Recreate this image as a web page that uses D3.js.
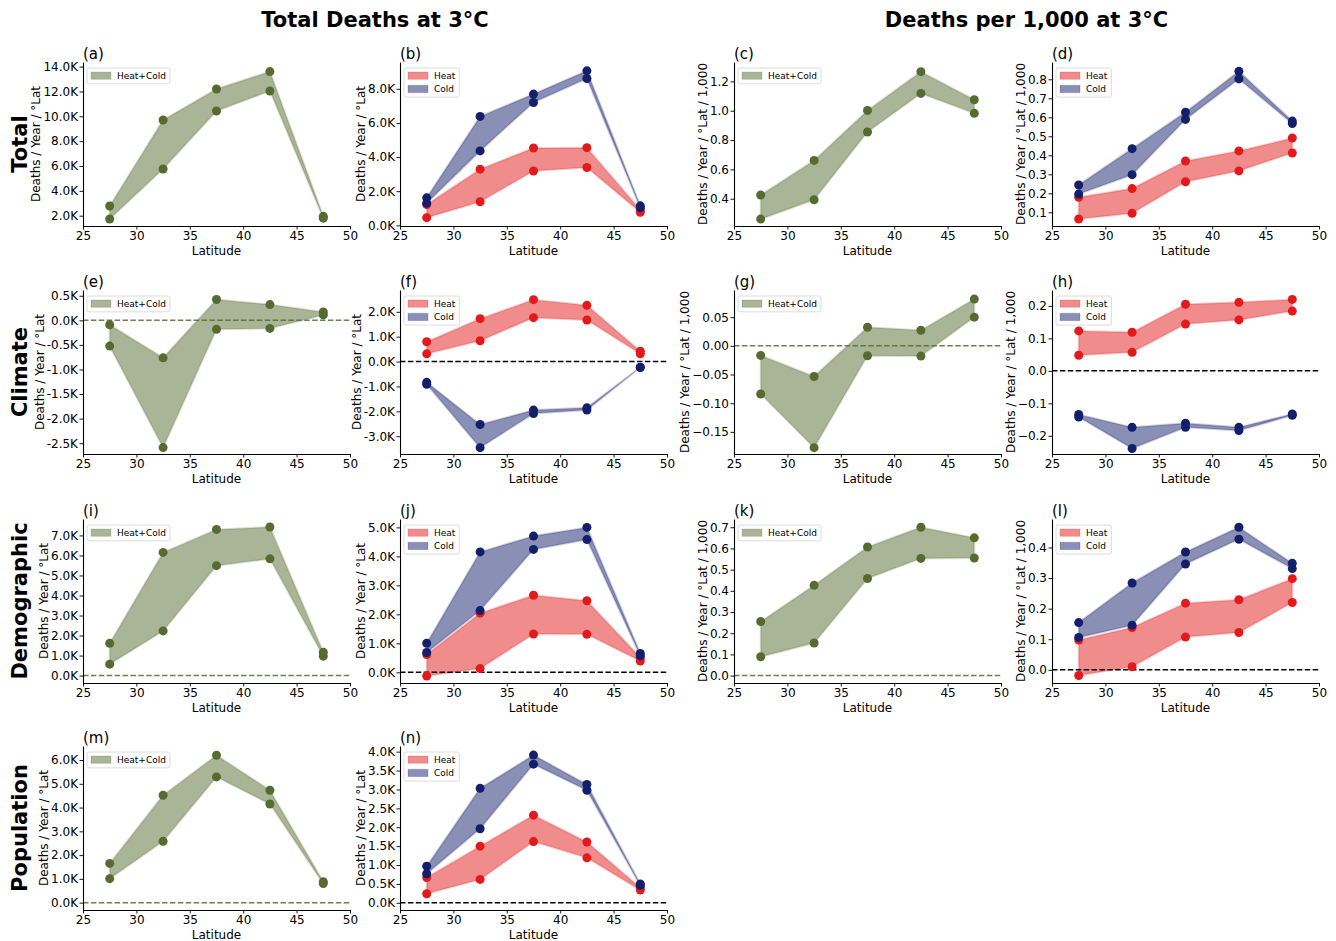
<!DOCTYPE html>
<html><head><meta charset="utf-8">
<script src="https://cdn.jsdelivr.net/npm/d3@7"></script>
<style>body{margin:0;background:#fff} svg{font-family:"DejaVu Sans",sans-serif}</style>
</head><body><svg id="chart" width="1336" height="941"></svg>
<script>
// ---------- data ----------
const latitudes = [27.5, 32.5, 37.5, 42.5, 47.5];
const xTicks = [25, 30, 35, 40, 45, 50];
const colTitles = ["Total Deaths at 3°C", "Deaths per 1,000 at 3°C"];
const rowLabels = ["Total", "Climate", "Demographic", "Population"];

// (a) Total deaths, Heat+Cold
const aLow  = [1730, 5760, 10430, 12040, 1800];
const aHigh = [2780, 9700, 12200, 13600, 1950];
// (b) Total deaths, Heat / Cold
const bHeatLow  = [450, 1380, 3180, 3390, 760];
const bHeatHigh = [1220, 3290, 4530, 4550, 900];
const bColdLow  = [1300, 4360, 7200, 8600, 1030];
const bColdHigh = [1610, 6380, 7690, 9050, 1140];
// (c) Total per 1,000, Heat+Cold
const cLow  = [0.261, 0.393, 0.855, 1.118, 0.982];
const cHigh = [0.425, 0.661, 1.002, 1.266, 1.075];
// (d) Total per 1,000, Heat / Cold
const dHeatLow  = [0.065, 0.095, 0.261, 0.318, 0.412];
const dHeatHigh = [0.179, 0.225, 0.370, 0.423, 0.491];
const dColdLow  = [0.196, 0.298, 0.589, 0.802, 0.567];
const dColdHigh = [0.244, 0.435, 0.627, 0.842, 0.580];
// (e) Climate deaths, Heat+Cold
const eLow  = [-525, -2590, -184, -164, 110];
const eHigh = [-89, -763, 423, 320, 170];
// (f) Climate deaths, Heat / Cold
const fHeatLow  = [310, 836, 1765, 1670, 310];
const fHeatHigh = [795, 1725, 2490, 2260, 418];
const fColdLow  = [-916, -3460, -2090, -1950, -240];
const fColdHigh = [-835, -2530, -1950, -1860, -229];
// (g) Climate per 1,000, Heat+Cold
const gLow  = [-0.084, -0.1775, -0.0172, -0.0178, 0.050];
const gHigh = [-0.0167, -0.0535, 0.0325, 0.0272, 0.0816];
// (h) Climate per 1,000, Heat / Cold
const hHeatLow  = [0.048, 0.057, 0.144, 0.157, 0.184];
const hHeatHigh = [0.123, 0.119, 0.205, 0.211, 0.220];
const hColdLow  = [-0.142, -0.239, -0.174, -0.184, -0.137];
const hColdHigh = [-0.134, -0.174, -0.161, -0.174, -0.133];
// (i) Demographic deaths, Heat+Cold
const iLow  = [570, 2230, 5490, 5830, 970];
const iHigh = [1610, 6150, 7300, 7420, 1170];
// (j) Demographic deaths, Heat / Cold
const jHeatLow  = [-127, 127, 1320, 1310, 390];
const jHeatHigh = [613, 2040, 2660, 2470, 510];
const jColdLow  = [683, 2130, 4240, 4580, 570];
const jColdHigh = [1000, 4155, 4700, 5000, 650];
// (k) Demographic per 1,000, Heat+Cold
const kLow  = [0.089, 0.154, 0.458, 0.553, 0.555];
const kHigh = [0.255, 0.426, 0.607, 0.700, 0.650];
// (l) Demographic per 1,000, Heat / Cold
const lHeatLow  = [-0.0186, 0.010, 0.107, 0.122, 0.220];
const lHeatHigh = [0.0975, 0.138, 0.218, 0.229, 0.298];
const lColdLow  = [0.106, 0.146, 0.346, 0.427, 0.331];
const lColdHigh = [0.1545, 0.284, 0.385, 0.466, 0.348];
// (m) Population deaths, Heat+Cold
const mLow  = [1010, 2580, 5290, 4150, 800];
const mHigh = [1650, 4520, 6200, 4730, 880];
// (n) Population deaths, Heat / Cold
const nHeatLow  = [240, 620, 1620, 1190, 340];
const nHeatHigh = [670, 1500, 2320, 1610, 400];
const nColdLow  = [770, 1960, 3670, 2980, 460];
const nColdHigh = [970, 3030, 3910, 3130, 500];

// y tick labels per panel
const aTicks = [2000, 4000, 6000, 8000, 10000, 12000, 14000];
const bTicks = [0, 2000, 4000, 6000, 8000];
const cTicks = [0.4, 0.6, 0.8, 1.0, 1.2];
const dTicks = [0.1, 0.2, 0.3, 0.4, 0.5, 0.6, 0.7, 0.8];
const eTicks = [-2500, -2000, -1500, -1000, -500, 0, 500];
const fTicks = [-3000, -2000, -1000, 0, 1000, 2000];
const gTicks = [-0.15, -0.10, -0.05, 0.00, 0.05];
const hTicks = [-0.2, -0.1, 0.0, 0.1, 0.2];
const iTicks = [0, 1000, 2000, 3000, 4000, 5000, 6000, 7000];
const jTicks = [0, 1000, 2000, 3000, 4000, 5000];
const kTicks = [0, 0.1, 0.2, 0.3, 0.4, 0.5, 0.6, 0.7];
const lTicks = [0, 0.1, 0.2, 0.3, 0.4];
const mTicks = [0, 1000, 2000, 3000, 4000, 5000, 6000];
const nTicks = [0, 500, 1000, 1500, 2000, 2500, 3000, 3500, 4000];

// ---------- layout / style ----------
const colLeft = [83, 400, 734, 1052], colWidth = 267;
const rowTop = [62, 290, 519, 746], rowHeight = 164;
const COL = {hc: "#556b2f", heat: "#e31a1c", cold: "#131f6b"};
const kFmt = v => (v / 1000).toFixed(1) + "K";
const f1 = v => d3.format(".1f")(v);
const f2 = v => d3.format(".2f")(v);

const HC = (lo, hi) => [{label: "Heat+Cold", color: COL.hc, low: lo, high: hi}];
const HCold = (hl, hh, cl, ch) => [
  {label: "Heat", color: COL.heat, low: hl, high: hh},
  {label: "Cold", color: COL.cold, low: cl, high: ch}];

const panels = [
  {tag: "(a)", r: 0, c: 0, s: HC(aLow, aHigh), ticks: aTicks, fmt: kFmt, dom: [1170, 14370], zero: null, yl: "Deaths / Year / °Lat"},
  {tag: "(b)", r: 0, c: 1, s: HCold(bHeatLow, bHeatHigh, bColdLow, bColdHigh), ticks: bTicks, fmt: kFmt, dom: [-40, 9570], zero: null, yl: "Deaths / Year / °Lat"},
  {tag: "(c)", r: 0, c: 2, s: HC(cLow, cHigh), ticks: cTicks, fmt: f1, dom: [0.214, 1.332], zero: null, yl: "Deaths / Year / °Lat / 1,000"},
  {tag: "(d)", r: 0, c: 3, s: HCold(dHeatLow, dHeatHigh, dColdLow, dColdHigh), ticks: dTicks, fmt: f1, dom: [0.028, 0.891], zero: null, yl: "Deaths / Year / °Lat / 1,000"},
  {tag: "(e)", r: 1, c: 0, s: HC(eLow, eHigh), ticks: eTicks, fmt: kFmt, dom: [-2720, 617], zero: "hc", yl: "Deaths / Year / °Lat"},
  {tag: "(f)", r: 1, c: 1, s: HCold(fHeatLow, fHeatHigh, fColdLow, fColdHigh), ticks: fTicks, fmt: kFmt, dom: [-3715, 2877], zero: "k", yl: "Deaths / Year / °Lat"},
  {tag: "(g)", r: 1, c: 2, s: HC(gLow, gHigh), ticks: gTicks, fmt: f2, dom: [-0.1886, 0.0974], zero: "hc", yl: "Deaths / Year / °Lat / 1,000"},
  {tag: "(h)", r: 1, c: 3, s: HCold(hHeatLow, hHeatHigh, hColdLow, hColdHigh), ticks: hTicks, fmt: f1, dom: [-0.256, 0.249], zero: "k", yl: "Deaths / Year / °Lat / 1,000"},
  {tag: "(i)", r: 2, c: 0, s: HC(iLow, iHigh), ticks: iTicks, fmt: kFmt, dom: [-370, 7820], zero: "hc", yl: "Deaths / Year / °Lat"},
  {tag: "(j)", r: 2, c: 1, s: HCold(jHeatLow, jHeatHigh, jColdLow, jColdHigh), ticks: jTicks, fmt: kFmt, dom: [-370, 5290], zero: "k", yl: "Deaths / Year / °Lat"},
  {tag: "(k)", r: 2, c: 2, s: HC(kLow, kHigh), ticks: kTicks, fmt: f1, dom: [-0.035, 0.739], zero: "hc", yl: "Deaths / Year / °Lat / 1,000"},
  {tag: "(l)", r: 2, c: 3, s: HCold(lHeatLow, lHeatHigh, lColdLow, lColdHigh), ticks: lTicks, fmt: f1, dom: [-0.043, 0.493], zero: "k", yl: "Deaths / Year / °Lat / 1,000"},
  {tag: "(m)", r: 3, c: 0, s: HC(mLow, mHigh), ticks: mTicks, fmt: kFmt, dom: [-310, 6590], zero: "hc", yl: "Deaths / Year / °Lat"},
  {tag: "(n)", r: 3, c: 1, s: HCold(nHeatLow, nHeatHigh, nColdLow, nColdHigh), ticks: nTicks, fmt: kFmt, dom: [-190, 4150], zero: "k", yl: "Deaths / Year / °Lat"},
];

const svg = d3.select("#chart");

// column titles
svg.append("text").attr("x", (colLeft[0] + colLeft[1] + colWidth) / 2).attr("y", 27)
  .attr("text-anchor", "middle").attr("font-size", 21).attr("font-weight", "bold").text(colTitles[0]);
svg.append("text").attr("x", (colLeft[2] + colLeft[3] + colWidth) / 2).attr("y", 27)
  .attr("text-anchor", "middle").attr("font-size", 21).attr("font-weight", "bold").text(colTitles[1]);

// row labels
rowLabels.forEach((t, i) => {
  const cy = rowTop[i] + rowHeight / 2;
  svg.append("text").attr("transform", `translate(27,${cy}) rotate(-90)`)
    .attr("text-anchor", "middle").attr("font-size", 21).attr("font-weight", "bold").text(t);
});

panels.forEach(p => {
  const g = svg.append("g").attr("transform", `translate(${colLeft[p.c]},${rowTop[p.r]})`);
  const x = d3.scaleLinear().domain([25, 50]).range([0, colWidth]);
  const y = d3.scaleLinear().domain(p.dom).range([rowHeight, 0]);

  // bands
  p.s.forEach(s => {
    const pts = latitudes.map((lat, i) => ({lat, lo: s.low[i], hi: s.high[i]}));
    const area = d3.area().x(d => x(d.lat)).y0(d => y(d.lo)).y1(d => y(d.hi));
    g.append("path").attr("d", area(pts)).attr("fill", s.color).attr("fill-opacity", 0.5)
      .attr("stroke", s.color).attr("stroke-opacity", 0.2).attr("stroke-width", 2)
      .attr("stroke-linejoin", "round");
  });

  // zero line
  if (p.zero) {
    g.append("line").attr("x1", 0).attr("x2", colWidth).attr("y1", y(0)).attr("y2", y(0))
      .attr("stroke", p.zero === "hc" ? COL.hc : "#000")
      .attr("stroke-opacity", p.zero === "hc" ? 0.85 : 1)
      .attr("stroke-width", 1.5).attr("stroke-dasharray", "5.5,2.4");
  }

  // points
  p.s.forEach(s => {
    const pts = [];
    latitudes.forEach((lat, i) => { pts.push({lat, v: s.low[i]}); pts.push({lat, v: s.high[i]}); });
    g.selectAll(null).data(pts).enter().append("circle")
      .attr("cx", d => x(d.lat)).attr("cy", d => y(d.v)).attr("r", 4.5).attr("fill", s.color);
  });

  // axes
  const xa = g.append("g").attr("transform", `translate(0,${rowHeight})`)
    .call(d3.axisBottom(x).tickValues(xTicks).tickFormat(d3.format("d")).tickSize(3.5).tickPadding(1.8).tickSizeOuter(0));
  const ya = g.append("g")
    .call(d3.axisLeft(y).tickValues(p.ticks).tickFormat(p.fmt).tickSize(3.5).tickPadding(1.5).tickSizeOuter(0));
  [xa, ya].forEach(a => {
    a.attr("font-family", "DejaVu Sans").attr("font-size", 12);
    a.selectAll("text").attr("fill", "#000");
    a.selectAll("line").attr("stroke", "#000").attr("stroke-width", 0.9);
    a.select(".domain").attr("stroke", "#000").attr("stroke-width", 1.1);
  });

  // labels
  g.append("text").attr("x", colWidth / 2).attr("y", rowHeight + 28.5).attr("text-anchor", "middle")
    .attr("font-size", 12).text("Latitude");
  const bb = ya.node().getBBox();
  g.append("text").attr("transform", `translate(${bb.x - 3},${rowHeight / 2}) rotate(-90)`)
    .attr("text-anchor", "middle").attr("font-size", 12).text(p.yl);
  g.append("text").attr("x", 0).attr("y", -3).attr("font-size", 15).text(p.tag);

  // legend
  const lg = g.append("g").attr("transform", "translate(4,6)");
  const box = lg.append("rect").attr("rx", 2).attr("fill", "#fff").attr("fill-opacity", 0.85)
    .attr("stroke", "#d3d3d3").attr("stroke-width", 0.8);
  let maxW = 0;
  p.s.forEach((s, i) => {
    const yy = 4 + i * 13.3;
    lg.append("rect").attr("x", 4).attr("y", yy).attr("width", 20).attr("height", 7.3)
      .attr("fill", s.color).attr("fill-opacity", 0.5).attr("stroke", s.color).attr("stroke-opacity", 0.2);
    const t = lg.append("text").attr("x", 30).attr("y", yy + 7).attr("font-size", 9).text(s.label);
    maxW = Math.max(maxW, t.node().getComputedTextLength());
  });
  box.attr("width", 30 + maxW + 4).attr("height", 4 + p.s.length * 13.3 - 1.5);
});
</script></body></html>
